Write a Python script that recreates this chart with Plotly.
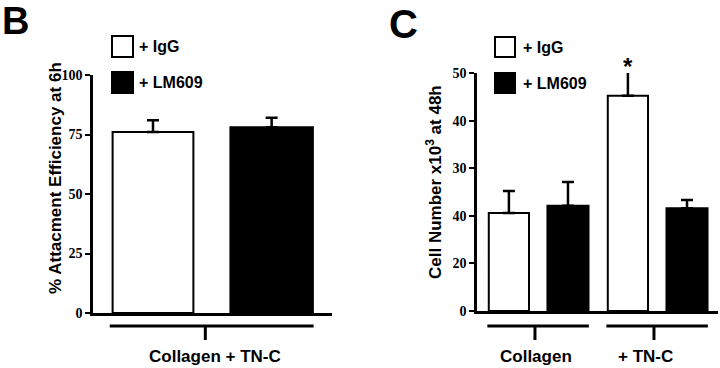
import plotly.graph_objects as go

# ---------------- data ----------------
b_categories = ["Collagen + TN-C"]
b_igg = [76]
b_igg_err = [5]
b_lm609 = [78]
b_lm609_err = [4]
b_ytickvals = [0, 25, 50, 75, 100]
b_yticktext = ["0", "25", "50", "75", "100"]

c_categories = ["Collagen", "+ TN-C"]
c_igg = [20.6, 45.2]
c_igg_err = [4.6, 5.2]
c_lm609 = [22.1, 21.6]
c_lm609_err = [5.0, 1.7]
c_ytickvals = [0, 10, 20, 30, 40, 50]
c_yticktext = ["0", "20", "40", "30", "40", "50"]

series_names = ["+ IgG", "+ LM609"]

# ---------------- helpers ----------------
W, H = 720, 368
def px(x):
    return x / W
def py(y):
    return 1 - y / H

FONT_SANS = "Liberation Sans, Arial, sans-serif"
FONT_SERIF = "Liberation Serif, Times New Roman, serif"

fig = go.Figure()

IGG_OFF, IGG_W = -0.418, 0.338
LM_OFF, LM_W = 0.075, 0.345

def add_bars(xa, ya, cats, igg, igg_e, lm, lm_e):
    fig.add_trace(go.Bar(
        x=cats, y=igg, name=series_names[0], xaxis=xa, yaxis=ya,
        offset=IGG_OFF, width=IGG_W,
        marker=dict(color="white", line=dict(color="black", width=2)),
        error_y=dict(type="data", symmetric=False, array=igg_e,
                     arrayminus=[0] * len(igg_e), color="black",
                     thickness=2.5, width=6),
        showlegend=False))
    fig.add_trace(go.Bar(
        x=cats, y=lm, name=series_names[1], xaxis=xa, yaxis=ya,
        offset=LM_OFF, width=LM_W,
        marker=dict(color="black", line=dict(color="black", width=2)),
        error_y=dict(type="data", symmetric=False, array=lm_e,
                     arrayminus=[0] * len(lm_e), color="black",
                     thickness=2.5, width=6),
        showlegend=False))

add_bars("x", "y", b_categories, b_igg, b_igg_err, b_lm609, b_lm609_err)
add_bars("x2", "y2", c_categories, c_igg, c_igg_err, c_lm609, c_lm609_err)

fig.update_layout(
    template="none",
    width=W, height=H,
    margin=dict(l=0, r=0, t=0, b=0, pad=0),
    paper_bgcolor="white", plot_bgcolor="white",
    barmode="overlay",
    showlegend=False,
)

fig.update_layout(
    xaxis=dict(domain=[px(93), px(332)], range=[-0.5, 0.5], anchor="y"),
    yaxis=dict(domain=[py(313), py(75)], range=[0, 100], anchor="x"),
    xaxis2=dict(domain=[px(477), px(718)], range=[-0.517, 1.508], anchor="y2"),
    yaxis2=dict(domain=[py(311), py(73)], range=[0, 50], anchor="x2"),
)

fig.update_xaxes(type="category", showline=True, linecolor="black",
                 linewidth=2.5, showticklabels=False, ticks="",
                 showgrid=False, zeroline=False)
fig.update_yaxes(showline=True, linecolor="black", linewidth=2.5,
                 ticks="outside", ticklen=5, tickwidth=2, tickcolor="black",
                 showgrid=False, zeroline=False, showticklabels=True,
                 tickfont=dict(family=FONT_SERIF, size=14, color="black",
                               weight="bold"))
fig.layout.yaxis.tickmode = "array"
fig.layout.yaxis.tickvals = b_ytickvals
fig.layout.yaxis.ticktext = b_yticktext
fig.layout.yaxis2.tickmode = "array"
fig.layout.yaxis2.tickvals = c_ytickvals
fig.layout.yaxis2.ticktext = c_yticktext

shapes = []
annotations = []

# brackets below the x axes
def bracket(xref, cat_index, y_line=326, y_tick=340):
    shapes.append(dict(type="line", xref=xref, yref="paper",
                       x0=cat_index - 0.43, x1=cat_index + 0.423,
                       y0=py(y_line), y1=py(y_line),
                       line=dict(color="black", width=3)))
    shapes.append(dict(type="line", xref=xref, yref="paper",
                       x0=cat_index - 0.03, x1=cat_index - 0.03,
                       y0=py(y_line), y1=py(y_tick),
                       line=dict(color="black", width=3)))

bracket("x", 0)
bracket("x2", 0)
bracket("x2", 1)

# category labels
label_font = dict(family=FONT_SANS, size=17, color="black")
def cat_label(xref, cat, xshift):
    annotations.append(dict(xref=xref, yref="paper", x=cat, y=py(356),
                            xanchor="center", yanchor="middle",
                            text="<b>%s</b>" % cat, showarrow=False,
                            xshift=xshift, font=label_font))
cat_label("x", b_categories[0], 2)
cat_label("x2", c_categories[0], -3)
cat_label("x2", c_categories[1], -12)

# axis titles
annotations.append(dict(xref="paper", yref="paper", x=px(55), y=py(178),
                        xanchor="center", yanchor="middle",
                        text="<b>% Attacment Efficiency at 6h</b>",
                        textangle=-90, showarrow=False,
                        font=dict(family=FONT_SANS, size=17, color="black")))
annotations.append(dict(xref="paper", yref="paper", x=px(434), y=py(182),
                        xanchor="center", yanchor="middle",
                        text="<b>Cell Number x10<sup>3</sup> at 48h</b>",
                        textangle=-90, showarrow=False,
                        font=dict(family=FONT_SANS, size=17, color="black")))

# panel letters
annotations.append(dict(xref="paper", yref="paper", x=px(0), y=py(-2),
                        xanchor="left", yanchor="top", text="<b>B</b>",
                        showarrow=False,
                        font=dict(family=FONT_SANS, size=38, color="black")))
annotations.append(dict(xref="paper", yref="paper", x=px(387), y=py(0),
                        xanchor="left", yanchor="top", text="<b>C</b>",
                        showarrow=False,
                        font=dict(family=FONT_SANS, size=40, color="black")))

# significance star (above the + TN-C / IgG error bar)
annotations.append(dict(xref="x2", yref="paper", x=c_categories[1],
                        y=py(66), xanchor="center", yanchor="middle",
                        xshift=-30, text="<b>*</b>", showarrow=False,
                        font=dict(family=FONT_SANS, size=24, color="black")))

# legends (boxes + text)
def legend(x_box0, x_box1, x_text, rows):
    for (y0, y1, fill, name) in rows:
        shapes.append(dict(type="rect", xref="paper", yref="paper",
                           x0=px(x_box0), x1=px(x_box1), y0=py(y1), y1=py(y0),
                           fillcolor=fill, line=dict(color="black", width=2)))
        annotations.append(dict(xref="paper", yref="paper", x=px(x_text),
                                y=py((y0 + y1) / 2), xanchor="left",
                                yanchor="middle", text="<b>%s</b>" % name,
                                showarrow=False,
                                font=dict(family=FONT_SANS, size=16,
                                          color="black")))

legend(112, 133, 137, [(36, 57, "white", series_names[0]),
                       (72, 93, "black", series_names[1])])
legend(495, 515, 521, [(37, 57, "white", series_names[0]),
                       (73, 93, "black", series_names[1])])

fig.update_layout(shapes=shapes, annotations=annotations)

fig.write_html("out.html",
               config={"displayModeBar": False},
               post_script="document.body.style.margin='0';"
                           "document.body.style.overflow='hidden';")
